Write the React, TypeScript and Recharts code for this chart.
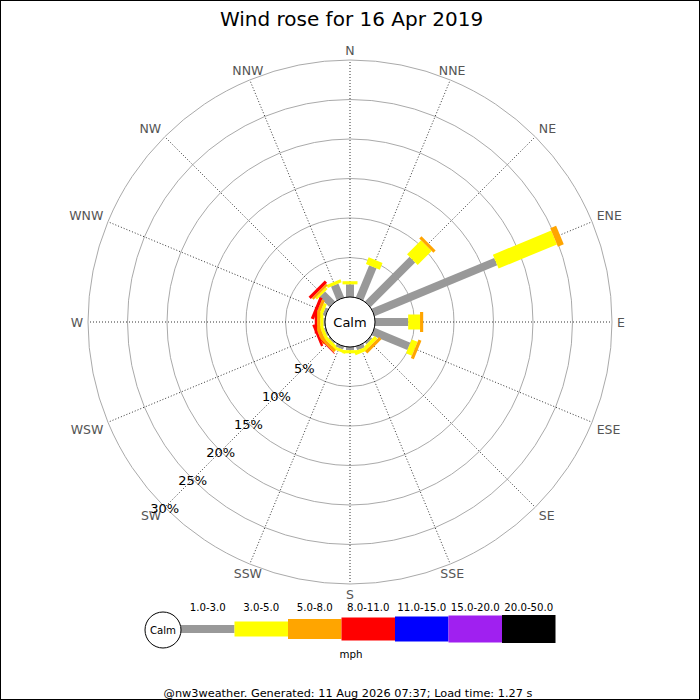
import {
  RadialBarChart,
  RadialBar,
  PolarGrid,
  PolarAngleAxis,
  PolarRadiusAxis,
} from 'recharts';

const directions = ['N', 'NNE', 'NE', 'ENE', 'E', 'ESE', 'SE', 'SSE', 'S', 'SSW', 'SW', 'WSW', 'W', 'WNW', 'NW', 'NNW'];

const speedBins = ['1.0-3.0', '3.0-5.0', '5.0-8.0', '8.0-11.0', '11.0-15.0', '15.0-20.0', '20.0-50.0'];
const binColors = ['#999999', '#ffff00', '#ffa500', '#ff0000', '#0000ff', '#a020f0', '#000000'];
const binWidths = [8, 15, 20, 23, 25, 27, 28];

// % of the day per direction, one list per speed bin
const pct1to3 = [1.6, 4.4, 8.0, 16.8, 4.2, 4.9, 0.3, 0.5, 0.4, 0.4, 0.2, 0.2, 0.2, 0.4, 1.8, 1.9];
const pct3to5 = [0.4, 0.9, 2.5, 8.0, 1.5, 0.8, 0.5, 0.5, 0.4, 0.4, 0.4, 0.4, 0.4, 0.4, 0.3, 0.4];
const pct5to8 = [0, 0, 0.4, 0.8, 0.4, 0.4, 0.4, 0, 0, 0, 0.4, 0.5, 0.4, 0.4, 0.3, 0];
const pct8to11 = [0, 0, 0, 0, 0, 0, 0, 0, 0, 0, 0.1, 0.3, 0.3, 0.4, 0.4, 0];
const pct11to15 = [0, 0, 0, 0, 0, 0, 0, 0, 0, 0, 0, 0, 0, 0, 0, 0];
const pct15to20 = [0, 0, 0, 0, 0, 0, 0, 0, 0, 0, 0, 0, 0, 0, 0, 0];
const pct20to50 = [0, 0, 0, 0, 0, 0, 0, 0, 0, 0, 0, 0, 0, 0, 0, 0];

const binSeries = [pct1to3, pct3to5, pct5to8, pct8to11, pct11to15, pct15to20, pct20to50];

const data = directions.map((dir, i) => {
  const row: Record<string, any> = { dir };
  binSeries.forEach((s, b) => {
    row['b' + b] = s[i];
  });
  return row;
});

const FONT = '"DejaVu Sans", Verdana, sans-serif';
const CX = 350;
const CY = 322;
const INNER = 25;
const OUTER = 262;
const BAND = 360 / directions.length;
// bars sit in the middle of each band, so the band starts half a band before north
const START = 90 - BAND / 2;

// recharts puts the angle ticks at the band edge; the labels go to the band middle
const compassAngles = directions.map((_, i) => 90 - i * BAND);

// each speed bin is a straight strip of fixed width along the direction
function stripShape(width: number, color: string) {
  return (props: any) => {
    const { cx, cy, innerRadius, outerRadius, startAngle, endAngle } = props;
    if (!(outerRadius - innerRadius > 0.05)) return <g />;
    const mid = (((startAngle + endAngle) / 2) * Math.PI) / 180;
    const ux = Math.cos(mid);
    const uy = -Math.sin(mid);
    const px = -uy * (width / 2);
    const py = ux * (width / 2);
    const ax = cx + ux * innerRadius;
    const ay = cy + uy * innerRadius;
    const bx = cx + ux * outerRadius;
    const by = cy + uy * outerRadius;
    const pts = [
      [ax + px, ay + py],
      [bx + px, by + py],
      [bx - px, by - py],
      [ax - px, ay - py],
    ]
      .map((p) => p.join(','))
      .join(' ');
    return <polygon points={pts} fill={color} />;
  };
}

function AngleTick(props: any) {
  const { payload } = props;
  const deg = payload.coordinate + BAND / 2;
  const a = (deg * Math.PI) / 180;
  const c = Math.cos(a);
  const s = Math.sin(a);
  const r = OUTER + 5;
  const x = CX + r * c;
  const y = CY - r * s;
  const anchor = c > 0.5 ? 'start' : c < -0.5 ? 'end' : 'middle';
  const baseline = s > 0.2 ? 'auto' : s < -0.2 ? 'hanging' : 'central';
  return (
    <text x={x} y={y} textAnchor={anchor} dominantBaseline={baseline} fill="#555" fontSize={12.5} fontFamily={FONT}>
      {payload.value}
    </text>
  );
}

function RadiusTick(props: any) {
  const { x, y, payload } = props;
  if (payload.value === 0) return <g />;
  return (
    <text x={x} y={y + 1} textAnchor="middle" dominantBaseline="central" fill="#000" fontSize={13} fontFamily={FONT}>
      {payload.value}%
    </text>
  );
}

function Legend() {
  const segW = 53.5;
  const x0 = 181;
  const yMid = 629;
  return (
    <g fontFamily={FONT}>
      {speedBins.map((label, i) => (
        <g key={label}>
          <rect x={x0 + i * segW} y={yMid - binWidths[i] / 2} width={segW} height={binWidths[i]} fill={binColors[i]} />
          <text x={x0 + i * segW + segW / 2} y={611} textAnchor="middle" fontSize={10.2} fill="#000">
            {label}
          </text>
        </g>
      ))}
      <circle cx={163} cy={630} r={18} fill="#fff" stroke="#000" />
      <text x={163} y={630} textAnchor="middle" dominantBaseline="central" fontSize={10.2}>
        Calm
      </text>
      <text x={351} y={654} textAnchor="middle" dominantBaseline="central" fontSize={10.3}>
        mph
      </text>
    </g>
  );
}

export default function App() {
  return (
    <div style={{ position: 'absolute', left: 0, top: 0, width: 700, height: 700, background: '#fff' }}>
      <RadialBarChart
        width={700}
        height={700}
        data={data}
        layout="centric"
        cx={CX}
        cy={CY}
        innerRadius={INNER}
        outerRadius={OUTER}
        startAngle={START}
        endAngle={START - 360}
        margin={{ top: 0, right: 0, bottom: 0, left: 0 }}
      >
        <PolarGrid gridType="circle" radialLines={false} stroke="#aaaaaa" />
        <PolarGrid gridType="circle" polarRadius={[]} polarAngles={compassAngles} stroke="#333" strokeDasharray="1 2" />
        <PolarAngleAxis dataKey="dir" type="category" tickSize={5} tick={AngleTick} axisLine={false} tickLine={false} />
        <PolarRadiusAxis type="number" domain={[0, 30]} tickCount={7} angle={225} axisLine={false} tick={RadiusTick} />
        {speedBins.map((bin, i) => (
          <RadialBar
            key={bin}
            dataKey={'b' + i}
            name={bin}
            stackId="wind"
            fill={binColors[i]}
            shape={stripShape(binWidths[i], binColors[i])}
            isAnimationActive={false}
          />
        ))}
      </RadialBarChart>
      <svg width={700} height={700} style={{ position: 'absolute', left: 0, top: 0, pointerEvents: 'none' }}>
        <rect x={0.5} y={0.5} width={699} height={699} fill="none" stroke="#000" />
        <text x={351.5} y={26} textAnchor="middle" fontSize={20} fontFamily={FONT} fill="#000">
          Wind rose for 16 Apr 2019
        </text>
        <circle cx={CX} cy={CY} r={INNER} fill="#fff" stroke="#000" />
        <text x={CX} y={CY} textAnchor="middle" dominantBaseline="central" fontSize={13} fontFamily={FONT}>
          Calm
        </text>
        <Legend />
        <text x={348} y={693} textAnchor="middle" dominantBaseline="central" fontSize={11.3} fontFamily={FONT}>
          @nw3weather. Generated: 11 Aug 2026 07:37; Load time: 1.27 s
        </text>
      </svg>
    </div>
  );
}
